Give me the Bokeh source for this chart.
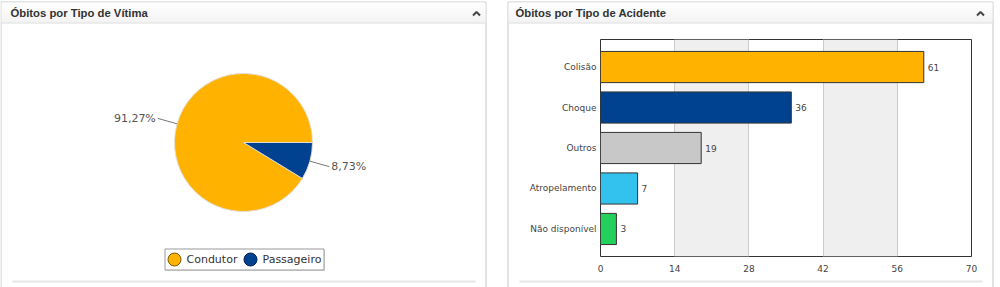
import numpy as np
from bokeh.plotting import figure
from bokeh.models import (Range1d, FixedTicker, ColumnDataSource, LinearScale)
from bokeh.layouts import row
from bokeh.embed import file_html
from bokeh.resources import INLINE
from bokeh.core.properties import value

# ---------------- data ----------------
victim_types = ["Condutor", "Passageiro"]
victim_pct = [91.27, 8.73]
victim_labels = ["91,27%", "8,73%"]
victim_colors = ["#FFB300", "#00428F"]

accident_types = ["Colisão", "Choque", "Outros", "Atropelamento", "Não disponível"]
accident_deaths = [61, 36, 19, 7, 3]
accident_colors = ["#FFB300", "#00428F", "#C8C8C8", "#33C1ED", "#22D05B"]
x_ticks = [0, 14, 28, 42, 56, 70]

H = 287
FONT = "DejaVu Sans"
TFONT = "Liberation Sans"


def Y(py):
    return H - py


def header(p, x0, x1, title, title_x, caret_x, level="glyph", xr="default", yr="default"):
    kw = dict(level=level, x_range_name=xr, y_range_name=yr)
    p.quad(left=x0 + 0.5, right=x1 - 0.5, top=Y(1.5), bottom=Y(300), fill_color=None,
           line_color="#c8c8c8", **kw)
    for i in range(20):
        c = int(255 - i * 0.8)
        col = "#%02x%02x%02x" % (c, c, c)
        p.quad(left=x0 + 1, right=x1 - 1, top=Y(2 + i), bottom=Y(3 + i), fill_color=col,
               line_color=None, **kw)
    p.line([x0 + 1, x1 - 1], [Y(22.5), Y(22.5)], line_color="#dcdcdc", **kw)
    p.text(x=[title_x], y=[Y(12.5)], text=[title], text_font=value(TFONT),
           text_font_style="bold", text_font_size="11.3px", text_baseline="middle",
           text_color="#333333", **kw)
    p.line([caret_x - 3.5, caret_x, caret_x + 3.5], [Y(15), Y(11.5), Y(15)],
           line_color="#444444", line_width=2, **kw)
    p.line([x0 + 12, x1 - 11], [Y(281), Y(281)], line_color="#e6e6e6", line_width=2, **kw)


# ---------------- left panel: pie ----------------
p1 = figure(width=500, height=H, x_range=Range1d(0, 500), y_range=Range1d(0, H),
            output_backend="svg", toolbar_location=None, min_border=0,
            x_axis_location=None, y_axis_location=None)
p1.frame_align = False
p1.grid.visible = False
p1.outline_line_color = None
p1.background_fill_color = "white"
p1.border_fill_color = "white"

header(p1, 0, 486, "Óbitos por Tipo de Vítima", 10, 476)

cx, cy, r = 243, Y(142), 69
frac = np.array(victim_pct) / sum(victim_pct)
ends = np.cumsum(frac) * 2 * np.pi
starts = ends - frac * 2 * np.pi
src = ColumnDataSource(dict(start=starts, end=ends, color=victim_colors))
p1.wedge(x=cx, y=cy, radius=r, start_angle="start", end_angle="end",
         fill_color="color", line_color="#e2ddd0", line_width=1, source=src)

mid = (starts + ends) / 2
lx0 = cx + r * np.cos(mid)
ly0 = cy + r * np.sin(mid)
lx1 = cx + (r + 20) * np.cos(mid)
ly1 = cy + (r + 20) * np.sin(mid)
for i in range(len(victim_types)):
    p1.line([lx0[i], lx1[i]], [ly0[i], ly1[i]], line_color="#777777", line_width=1)
    right_side = np.cos(mid[i]) >= 0
    p1.text(x=[lx1[i] + (2 if right_side else -2)], y=[ly1[i]], text=[victim_labels[i]],
            text_align="left" if right_side else "right", text_baseline="middle",
            text_font=value(FONT), text_font_size="11px", text_color="#555555")

p1.quad(left=165.5, right=324.5, top=Y(249.5), bottom=Y(270.5), fill_color="#dddddd",
        line_color=None)
p1.quad(left=164.5, right=323.5, top=Y(248.5), bottom=Y(269.5), fill_color="white",
        line_color="#999999")
leg_x = [174, 250]
for i in range(len(victim_types)):
    p1.scatter(x=[leg_x[i]], y=[Y(259)], size=13, fill_color=victim_colors[i],
               line_color="#7a5a00" if i == 0 else "#001f4a", line_width=1)
    p1.text(x=[leg_x[i] + 12], y=[Y(259)], text=[victim_types[i]], text_baseline="middle",
            text_font=value(FONT), text_font_size="11px", text_color="#333333")

# ---------------- right panel: bars ----------------
FL, FR, FT, FB = 100, 471, 39, 256
n = len(accident_types)
pos = list(range(n))
pad = 0.68
p2 = figure(width=500, height=H, x_range=Range1d(0, 70),
            y_range=Range1d(n - 1 + pad, -pad),
            output_backend="svg", toolbar_location=None,
            min_border_left=FL, min_border_right=500 - FR, min_border_top=FT,
            min_border_bottom=H - FB)
p2.frame_align = False
p2.background_fill_color = "white"
p2.border_fill_color = "white"
p2.outline_line_color = "#333333"
p2.outline_line_width = 1
p2.extra_x_ranges = {"px": Range1d(FL, FR)}
p2.extra_y_ranges = {"px": Range1d(Y(FB), Y(FT))}
p2.extra_x_scales = {"px": LinearScale()}
p2.extra_y_scales = {"px": LinearScale()}

p2.xaxis.ticker = FixedTicker(ticks=x_ticks)
p2.xgrid.ticker = FixedTicker(ticks=x_ticks)
p2.xgrid.grid_line_color = "#cccccc"
p2.xgrid.band_fill_color = "#efefef"
p2.xgrid.band_fill_alpha = 1
p2.ygrid.grid_line_color = None
p2.yaxis.ticker = FixedTicker(ticks=pos)
p2.yaxis.major_label_overrides = {i: name for i, name in zip(pos, accident_types)}

for ax in (p2.xaxis[0], p2.yaxis[0]):
    ax.axis_line_color = None
    ax.major_tick_line_color = None
    ax.minor_tick_line_color = None
    ax.major_label_text_font = FONT
    ax.major_label_text_font_size = "9px"
    ax.major_label_text_color = "#444444"
p2.xaxis.major_label_standoff = 2
p2.yaxis.major_label_standoff = -2

bsrc = ColumnDataSource(dict(pos=pos, val=accident_deaths, color=accident_colors,
                             lab=[str(v) for v in accident_deaths]))
p2.hbar(y="pos", right="val", left=0, height=0.77, fill_color="color",
        line_color="#333333", line_width=1, source=bsrc)
p2.text(x="val", y="pos", text="lab", x_offset=4, text_baseline="middle",
        text_font=value(FONT), text_font_size="9px", text_color="#444444", source=bsrc)

header(p2, 7, 493, "Óbitos por Tipo de Acidente", 15, 980 - 500, level="overlay",
       xr="px", yr="px")

layout = row(p1, p2)
open("out.html", "w").write(file_html(layout, INLINE))
